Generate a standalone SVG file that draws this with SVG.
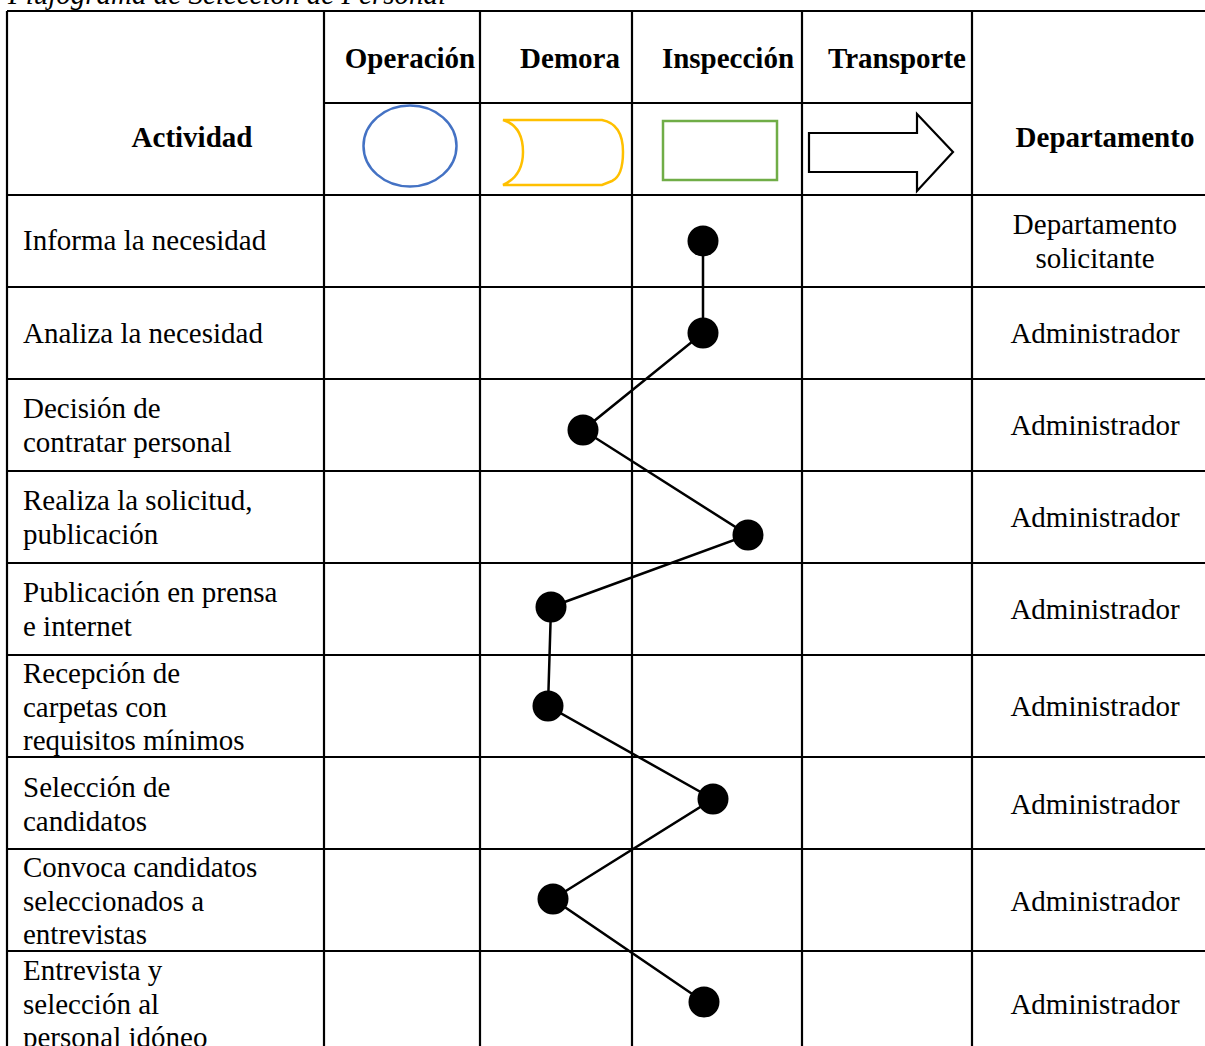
<svg xmlns="http://www.w3.org/2000/svg" width="1205" height="1046" viewBox="0 0 1205 1046">
<style>
.t{font-family:"Liberation Serif","Times New Roman",serif;font-size:29px;fill:#000}
.h{font-weight:bold}
.c{text-anchor:middle}
.g{stroke:#000;stroke-width:2.2;fill:none}
.con{stroke:#000;stroke-width:2.5;fill:none}
.dot{fill:#000}
</style>
<rect width="1205" height="1046" fill="#fff"/>
<text class="t" x="8" y="4" font-style="italic">Flujograma de Selección de Personal</text>
<g id="grid" class="g">
<path d="M7 11H1205M324 103H972M7 195H1205M7 287H1205M7 379H1205M7 471H1205M7 563H1205M7 655H1205M7 757H1205M7 849H1205M7 951H1205"/>
<path d="M7 11V1046M324 11V1046M480 11V1046M632 11V1046M802 11V1046M972 11V1046"/>
</g>
<g id="header">
<text class="t h c" x="192" y="147">Actividad</text>
<text class="t h c" x="410" y="68">Operación</text>
<text class="t h c" x="570" y="68">Demora</text>
<text class="t h c" x="728" y="68">Inspección</text>
<text class="t h c" x="897" y="68">Transporte</text>
<text class="t h c" x="1105" y="147">Departamento</text>
</g>
<g id="sym-operacion"><ellipse cx="410" cy="146" rx="46.5" ry="40.5" fill="none" stroke="#4472C4" stroke-width="2.5"/></g>
<g id="sym-demora"><path d="M503 120H602Q623 124 623 152Q623 176 612 181L602 185H503Q523 176 523 152Q523 126 503 120Z" fill="none" stroke="#FFC000" stroke-width="2.5"/></g>
<g id="sym-inspeccion"><rect x="663" y="121" width="114" height="59" fill="none" stroke="#70AD47" stroke-width="2.5"/></g>
<g id="sym-transporte"><path d="M809 133H917V114L953 152L917 191V172H809Z" fill="none" stroke="#000" stroke-width="2.2"/></g>
<g id="activities">
<text class="t" x="23" y="250">Informa la necesidad</text>
<text class="t" x="23" y="343">Analiza la necesidad</text>
<text class="t" x="23" y="418">Decisión de</text>
<text class="t" x="23" y="452">contratar personal</text>
<text class="t" x="23" y="510">Realiza la solicitud,</text>
<text class="t" x="23" y="544">publicación</text>
<text class="t" x="23" y="602">Publicación en prensa</text>
<text class="t" x="23" y="636">e internet</text>
<text class="t" x="23" y="683">Recepción de</text>
<text class="t" x="23" y="717">carpetas con</text>
<text class="t" x="23" y="750">requisitos mínimos</text>
<text class="t" x="23" y="797">Selección de</text>
<text class="t" x="23" y="831">candidatos</text>
<text class="t" x="23" y="877">Convoca candidatos</text>
<text class="t" x="23" y="911">seleccionados a</text>
<text class="t" x="23" y="944">entrevistas</text>
<text class="t" x="23" y="980">Entrevista y</text>
<text class="t" x="23" y="1014">selección al</text>
<text class="t" x="23" y="1047">personal idóneo</text>
</g>
<g id="departments">
<text class="t c" x="1095" y="234">Departamento</text>
<text class="t c" x="1095" y="268">solicitante</text>
<text class="t c" x="1095" y="343">Administrador</text>
<text class="t c" x="1095" y="435">Administrador</text>
<text class="t c" x="1095" y="527">Administrador</text>
<text class="t c" x="1095" y="619">Administrador</text>
<text class="t c" x="1095" y="716">Administrador</text>
<text class="t c" x="1095" y="814">Administrador</text>
<text class="t c" x="1095" y="911">Administrador</text>
<text class="t c" x="1095" y="1014">Administrador</text>
</g>
<g id="connectors" class="con">
<polyline points="703,241 703,333 583,430 748,535 551,607 548,706 713,799 553,899 704,1002"/>
</g>
<g id="dots" class="dot">
<circle id="p1" cx="703" cy="241" r="15.5"/>
<circle id="p2" cx="703" cy="333" r="15.5"/>
<circle id="p3" cx="583" cy="430" r="15.5"/>
<circle id="p4" cx="748" cy="535" r="15.5"/>
<circle id="p5" cx="551" cy="607" r="15.5"/>
<circle id="p6" cx="548" cy="706" r="15.5"/>
<circle id="p7" cx="713" cy="799" r="15.5"/>
<circle id="p8" cx="553" cy="899" r="15.5"/>
<circle id="p9" cx="704" cy="1002" r="15.5"/>
</g>
</svg>
